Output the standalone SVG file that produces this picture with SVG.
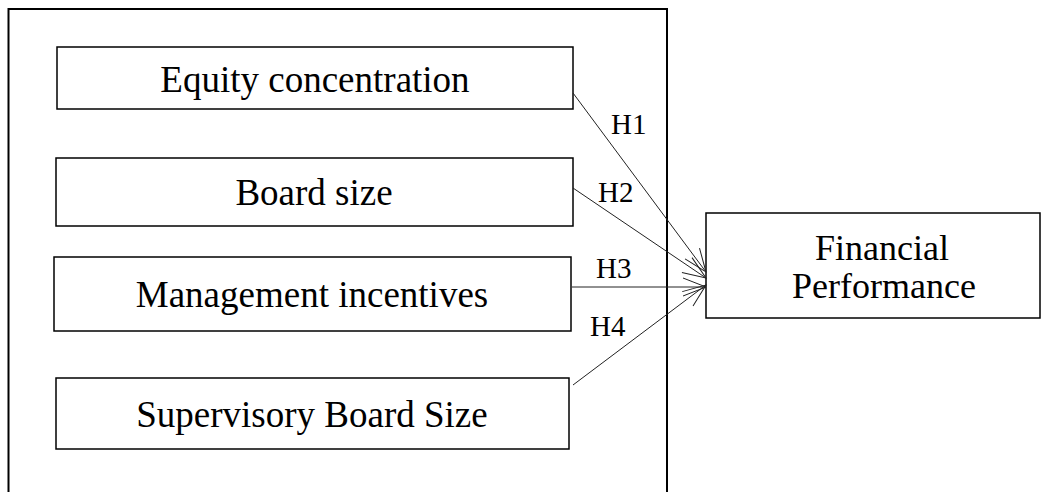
<svg xmlns="http://www.w3.org/2000/svg" width="1046" height="492" viewBox="0 0 1046 492">
  <style>
    .box { fill: #fff; stroke: #000; stroke-width: 1.5; }
    .label { font-family: "Liberation Serif", "Times New Roman", serif; font-size: 37px; fill: #000; text-anchor: middle; }
    .hyp { font-family: "Liberation Serif", "Times New Roman", serif; font-size: 29px; fill: #000; }
    .edge { fill: none; stroke: #222; stroke-width: 1; marker-end: url(#vhead); }
  </style>
  <defs>
    <marker id="vhead" markerUnits="userSpaceOnUse" markerWidth="30" markerHeight="24" viewBox="-24 -12 26 24" refX="0" refY="0" orient="auto">
      <path d="M-23,-9 L0,0 L-23,9" fill="none" stroke="#222" stroke-width="1"/>
    </marker>
  </defs>
  <rect width="1046" height="492" fill="#fff"/>

  <!-- frame around the governance variables -->
  <path id="frame" d="M8.5,492 V9 H667 V492" fill="none" stroke="#000" stroke-width="2"/>

  <g id="equity">
    <rect class="box" x="57" y="47" width="516" height="62"/>
    <text class="label" x="315" y="92">Equity concentration</text>
  </g>
  <g id="board">
    <rect class="box" x="56" y="158" width="517" height="68"/>
    <text class="label" x="314" y="205">Board size</text>
  </g>
  <g id="incentives">
    <rect class="box" x="54" y="257" width="517" height="74"/>
    <text class="label" x="312" y="307">Management incentives</text>
  </g>
  <g id="supervisory">
    <rect class="box" x="56" y="378" width="513" height="71"/>
    <text class="label" x="312" y="427">Supervisory Board Size</text>
  </g>
  <g id="performance">
    <rect class="box" x="706" y="213" width="334" height="105"/>
    <text class="label" x="882" y="260" style="font-size:36px">Financial</text>
    <text class="label" x="884" y="298" style="font-size:36px">Performance</text>
  </g>

  <g id="connectors">
    <line class="edge" x1="573" y1="93" x2="706" y2="272"/>
    <line class="edge" x1="573" y1="188" x2="706" y2="278"/>
    <line class="edge" x1="572" y1="287" x2="706" y2="287"/>
    <line class="edge" x1="573" y1="385" x2="706" y2="285"/>
    <text class="hyp" x="611" y="134">H1</text>
    <text class="hyp" x="598" y="202">H2</text>
    <text class="hyp" x="596" y="278">H3</text>
    <text class="hyp" x="590" y="336">H4</text>
  </g>
</svg>
